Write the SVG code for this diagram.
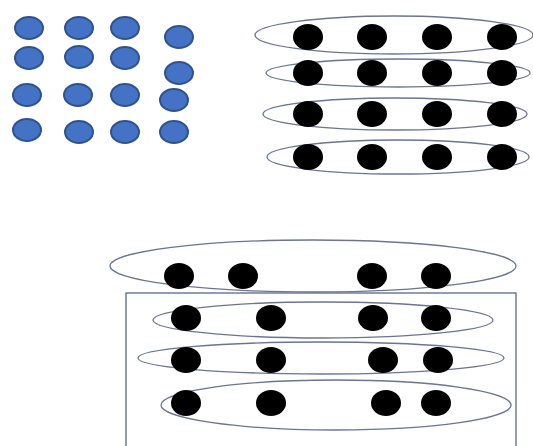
<svg xmlns="http://www.w3.org/2000/svg" width="533" height="446" viewBox="0 0 533 446">
<style>
.b{fill:#4472C4;stroke:#2F528F;stroke-width:2}
.k{fill:#000}
.o{fill:none;stroke:#6b7590;stroke-width:1.3}
.r{fill:none;stroke:#4a5d80;stroke-width:1.2}
</style>
<rect width="533" height="446" fill="#fff"/>
<g id="blue">
<ellipse class="b" cx="29" cy="28" rx="14" ry="11"/>
<ellipse class="b" cx="79" cy="28" rx="14" ry="11"/>
<ellipse class="b" cx="125" cy="28" rx="14" ry="11"/>
<ellipse class="b" cx="179" cy="37" rx="14" ry="11"/>
<ellipse class="b" cx="29" cy="58" rx="14" ry="11"/>
<ellipse class="b" cx="79" cy="57" rx="14" ry="11"/>
<ellipse class="b" cx="125" cy="58" rx="14" ry="11"/>
<ellipse class="b" cx="179" cy="73" rx="14" ry="11"/>
<ellipse class="b" cx="27" cy="95" rx="14" ry="11"/>
<ellipse class="b" cx="78" cy="95" rx="14" ry="11"/>
<ellipse class="b" cx="125" cy="95" rx="14" ry="11"/>
<ellipse class="b" cx="174" cy="100" rx="14" ry="11"/>
<ellipse class="b" cx="27" cy="130" rx="14" ry="11"/>
<ellipse class="b" cx="79" cy="132" rx="14" ry="11"/>
<ellipse class="b" cx="125" cy="132" rx="14" ry="11"/>
<ellipse class="b" cx="174" cy="132" rx="14" ry="11"/>
</g>
<g id="topright">
<ellipse class="o" cx="394" cy="35" rx="139" ry="19"/>
<ellipse class="o" cx="398" cy="73" rx="132" ry="14"/>
<ellipse class="o" cx="395" cy="114" rx="132" ry="16"/>
<ellipse class="o" cx="398" cy="157" rx="131" ry="17"/>
<g class="k">
<ellipse cx="308" cy="37" rx="15" ry="13"/><ellipse cx="372" cy="37" rx="15" ry="13"/><ellipse cx="437" cy="37" rx="15" ry="13"/><ellipse cx="502" cy="37" rx="15" ry="13"/>
<ellipse cx="308" cy="73" rx="15" ry="13"/><ellipse cx="372" cy="73" rx="15" ry="13"/><ellipse cx="437" cy="73" rx="15" ry="13"/><ellipse cx="502" cy="73" rx="15" ry="13"/>
<ellipse cx="308" cy="114" rx="15" ry="13"/><ellipse cx="372" cy="114" rx="15" ry="13"/><ellipse cx="437" cy="114" rx="15" ry="13"/><ellipse cx="502" cy="114" rx="15" ry="13"/>
<ellipse cx="308" cy="157" rx="15" ry="13"/><ellipse cx="372" cy="157" rx="15" ry="13"/><ellipse cx="437" cy="157" rx="15" ry="13"/><ellipse cx="502" cy="157" rx="15" ry="13"/>
</g>
</g>
<g id="bottom">
<rect class="r" x="126" y="293" width="390" height="160"/>
<ellipse class="o" cx="313" cy="266" rx="203" ry="26"/>
<ellipse class="o" cx="323" cy="320" rx="170" ry="18"/>
<ellipse class="o" cx="321" cy="358" rx="183" ry="16"/>
<ellipse class="o" cx="336" cy="405" rx="175" ry="25"/>
<g class="k">
<ellipse cx="179" cy="276" rx="15" ry="13"/><ellipse cx="243" cy="276" rx="15" ry="13"/><ellipse cx="372" cy="276" rx="15" ry="13"/><ellipse cx="436" cy="276" rx="15" ry="13"/>
<ellipse cx="186" cy="318" rx="15" ry="13"/><ellipse cx="271" cy="318" rx="15" ry="13"/><ellipse cx="373" cy="318" rx="15" ry="13"/><ellipse cx="436" cy="318" rx="15" ry="13"/>
<ellipse cx="186" cy="360" rx="15" ry="13"/><ellipse cx="271" cy="360" rx="15" ry="13"/><ellipse cx="383" cy="360" rx="15" ry="13"/><ellipse cx="438" cy="360" rx="15" ry="13"/>
<ellipse cx="186" cy="403" rx="15" ry="13"/><ellipse cx="271" cy="403" rx="15" ry="13"/><ellipse cx="386" cy="403" rx="15" ry="13"/><ellipse cx="436" cy="403" rx="15" ry="13"/>
</g>
</g>
</svg>
